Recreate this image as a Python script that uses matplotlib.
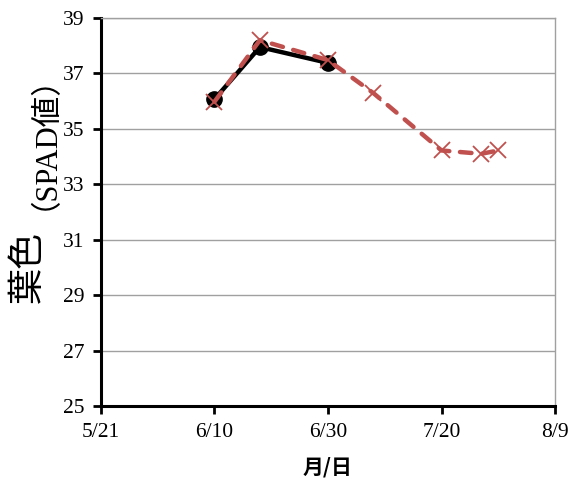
import numpy as np
import pandas as pd
import matplotlib
matplotlib.use("Agg")
import matplotlib.pyplot as plt
from matplotlib.ticker import FuncFormatter
import matplotlib.dates as mdates

# series 1 (black, solid)
dates_a = ["2014-06-10", "2014-06-18", "2014-06-30"]
spad_a = [36.07, 37.95, 37.38]
# series 2 (red, dashed)
dates_b = ["2014-06-10", "2014-06-18", "2014-06-30", "2014-07-08",
           "2014-07-20", "2014-07-27", "2014-07-30"]
spad_b = [35.98, 38.2, 37.48, 36.29, 34.22, 34.1, 34.22]

xticks = ["2014-05-21", "2014-06-10", "2014-06-30", "2014-07-20", "2014-08-09"]
yticks = [25, 27, 29, 31, 33, 35, 37, 39]

serif = ['Liberation Serif', 'Noto Sans CJK JP']
jp = ['Noto Sans CJK JP', 'DejaVu Sans']

fig = plt.figure(figsize=(5.83, 4.8), dpi=100)
ax = fig.add_axes([0.1732, 0.1542, 0.7788, 0.8083])

xa = pd.to_datetime(dates_a)
xb = pd.to_datetime(dates_b)
ax.plot(xa, spad_a, color='black', lw=3.2, marker='o', ms=11,
        solid_capstyle='round', zorder=3)
ax.plot(xb, spad_b, color='#C0504D', lw=3.2, ls='--', dashes=(2.6, 2.4),
        dash_capstyle='round', marker='x', ms=12, mew=1.3, zorder=4)

xt = pd.to_datetime(xticks)
ax.set_xlim(xt[0], xt[-1])
ax.set_xticks(xt)
ax.xaxis.set_major_formatter(FuncFormatter(
    lambda v, p: "{}/{}".format(mdates.num2date(v).month, mdates.num2date(v).day)))
ax.set_ylim(25, 39)
ax.set_yticks(yticks)
ax.grid(axis='y', color='#a0a0a0', lw=1)
ax.set_axisbelow(True)

for s in ['left', 'bottom']:
    ax.spines[s].set_linewidth(2.2)
    ax.spines[s].set_color('black')
for s in ['top', 'right']:
    ax.spines[s].set_linewidth(1)
    ax.spines[s].set_color('#a0a0a0')

ax.tick_params(axis='both', direction='out', length=6, width=2, color='black',
               labelsize=15.5)
ax.tick_params(axis='x', pad=6)
ax.tick_params(axis='y', pad=6)
for lab in ax.get_xticklabels() + ax.get_yticklabels():
    lab.set_family(serif)

ax.set_xlabel("月/日", family=jp, fontsize=15, fontweight='bold', labelpad=11)

fig.text(0.048, 0.443, "葉色", rotation=90, ha='center', va='center',
         family=jp, fontsize=26)
fig.text(0.05, 0.736, "（SPAD値）", rotation=90, ha='center', va='center',
         family=serif, fontsize=22)

fig.savefig("out.png", dpi=100)
